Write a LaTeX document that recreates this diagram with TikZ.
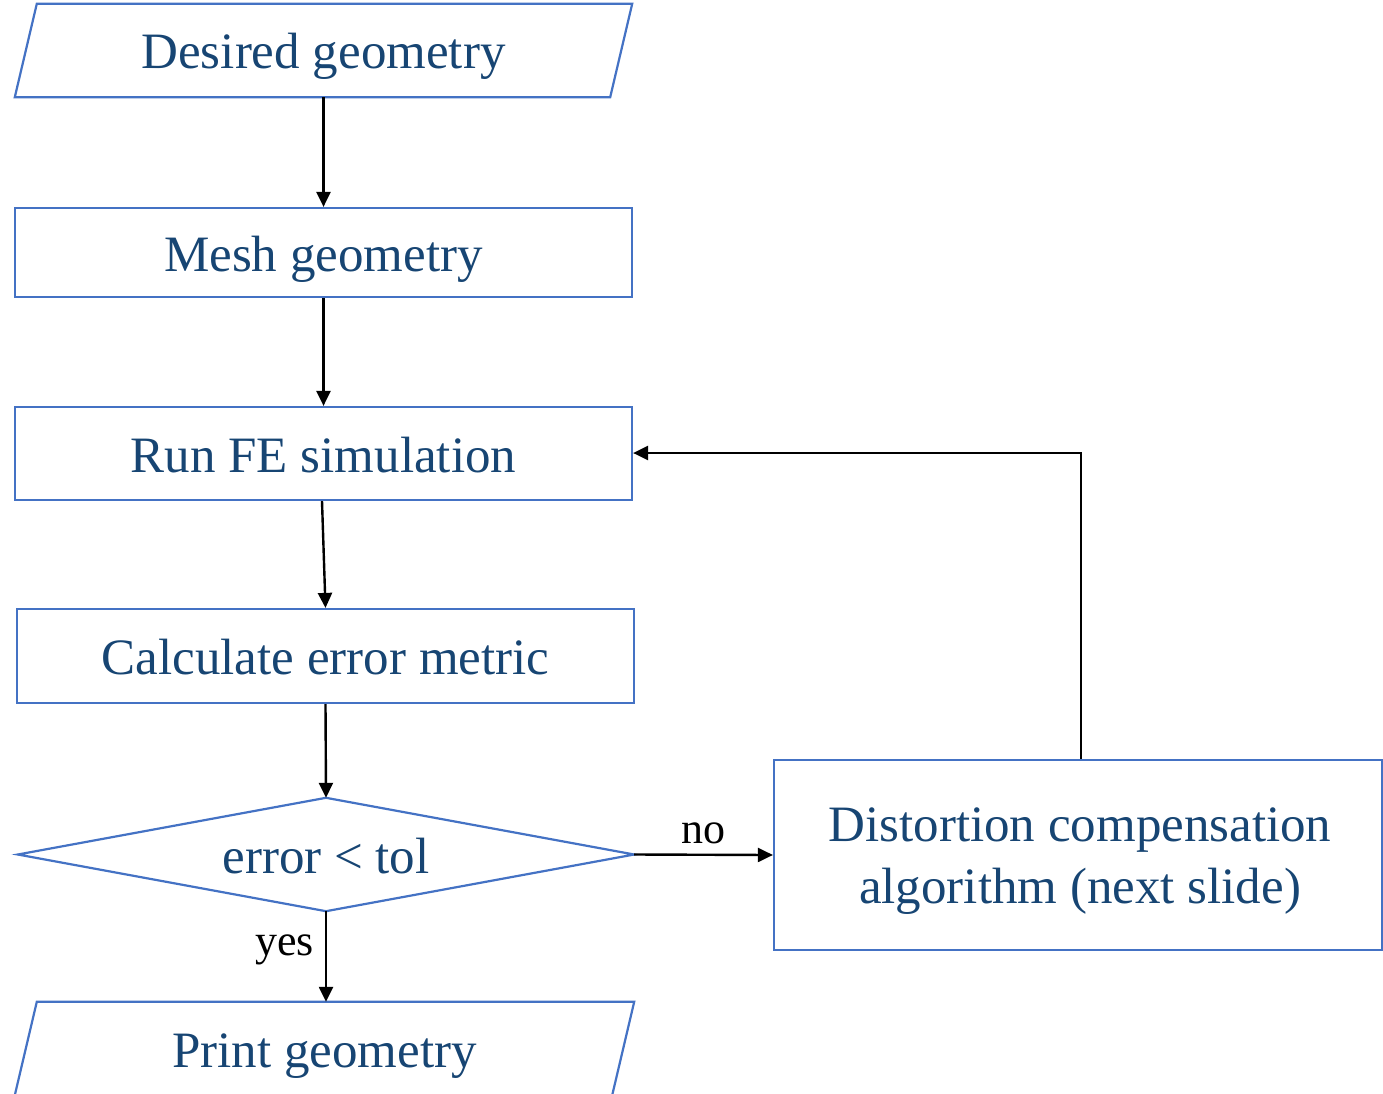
\documentclass[tikz,border=0pt]{standalone}
\usepackage{fontspec}
\setmainfont{Liberation Serif}
\usetikzlibrary{arrows.meta}
\definecolor{boxblue}{HTML}{4472C4}
\definecolor{txtblue}{HTML}{174573}
\tikzset{
  box/.style={draw=boxblue, line width=2.2pt, rectangle, inner sep=0pt, text=txtblue,
    font=\fontsize{51}{62}\selectfont, text height=37pt, text depth=0pt},
  shapebox/.style={rectangle, inner sep=0pt, text=txtblue, font=\fontsize{51}{62}\selectfont,
    text height=37pt, text depth=0pt},
  plainbox/.style={rectangle, inner sep=0pt, text=txtblue, font=\fontsize{51}{62}\selectfont},
  outline/.style={draw=boxblue, line width=2.2pt, line join=miter},
  conn/.style={draw=black, line width=2.4pt, -{Triangle[length=15pt,width=14pt]}},
  lbl/.style={text=black, font=\fontsize{44}{52}\selectfont, inner sep=0pt}
}
\begin{document}
\begin{tikzpicture}[x=1pt,y=-1pt]
\useasboundingbox (0,0) rectangle (1383,1094);
% nodes
\node[shapebox, minimum width=617pt, minimum height=93pt] (dg) at (323.5,50.5) {Desired geometry};
\draw[outline] ([xshift=22pt]dg.north west) -- (dg.north east) -- ([xshift=-22pt]dg.south east) -- (dg.south west) -- cycle;
\node[box, minimum width=617pt, minimum height=89pt] (mg) at (323.5,252.5) {Mesh geometry};
\node[box, minimum width=617pt, minimum height=93pt] (fe) at (323.5,453.5) {Run FE simulation};
\node[box, minimum width=617pt, minimum height=94pt] (ce) at (325.5,656) {Calculate error metric};
\node[shapebox, minimum width=616pt, minimum height=113pt] (dec) at (326,854.5) {error < tol};
\draw[outline] (dec.west) -- (dec.north) -- (dec.east) -- (dec.south) -- cycle;
\node[draw=boxblue, line width=2.2pt, rectangle, inner sep=0pt, minimum width=608pt, minimum height=190pt] (dc) at (1078,855) {};
\node[plainbox, align=center] (dct) at (1080,861) {Distortion compensation\\algorithm (next slide)};
\node[shapebox, minimum width=619pt, minimum height=93pt] (pg) at (324.5,1048.5) {Print geometry};
\draw[outline] ([xshift=22pt]pg.north west) -- (pg.north east) -- ([xshift=-22pt]pg.south east) -- (pg.south west) -- cycle;
% connectors
\draw[conn] (dg.south) -- (mg.north);
\draw[conn] (mg.south) -- (fe.north);
\draw[conn] ([xshift=-1.5pt]fe.south) -- (ce.north);
\draw[conn] (ce.south) -- (dec.north);
\draw[conn] (dec.south) -- node[lbl, left=11pt, pos=0.43] (yes) {yes} ([xshift=1.5pt]pg.north);
\draw[conn] (dec.east) -- node[lbl, above=10pt] (no) {no} (dc.west);
\coordinate (turn) at (1081,453);
\draw[conn] (dc.north -| turn) -- (turn) -- (fe.east |- turn);
\end{tikzpicture}
\end{document}
